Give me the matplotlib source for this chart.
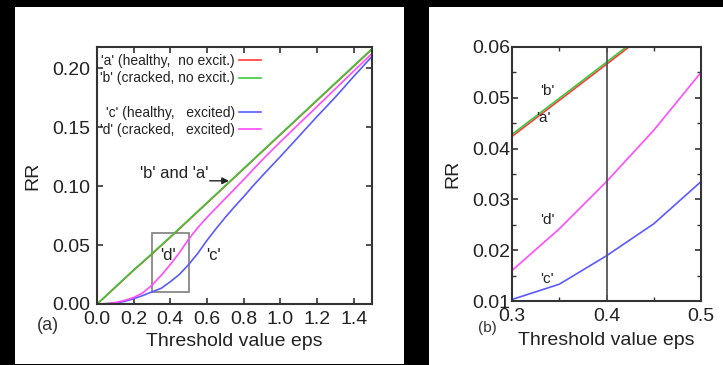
import matplotlib
matplotlib.use("Agg")
from matplotlib import pyplot as plt
from matplotlib.patches import Rectangle
from matplotlib.ticker import MultipleLocator

plt.rcParams['font.family'] = ['Liberation Sans', 'DejaVu Sans']

# threshold values eps (step 0.05)
eps = [0.00, 0.05, 0.10, 0.15, 0.20, 0.25, 0.30, 0.35, 0.40, 0.45, 0.50,
       0.55, 0.60, 0.65, 0.70, 0.75, 0.80, 0.85, 0.90, 0.95, 1.00,
       1.05, 1.10, 1.15, 1.20, 1.25, 1.30, 1.35, 1.40, 1.45, 1.50]

# 'a' healthy, no excitation
rr_a = [0, .0069, .0141, .0213, .0286, .0354, .0424, .0495, .0566, .0638, .0711,
        .0783, .0856, .0928, .1001, .1073, .1146, .1218, .1291, .1363, .1436,
        .1508, .1581, .1653, .1726, .1798, .1871, .1943, .2016, .2088, .2161]
# 'b' cracked, no excitation
rr_b = [0, .0072, .0145, .0217, .0290, .0358, .0428, .0499, .0570, .0642, .0715,
        .0787, .0860, .0932, .1005, .1077, .1150, .1222, .1295, .1367, .1440,
        .1512, .1585, .1657, .1730, .1802, .1875, .1947, .2020, .2092, .2165]
# 'c' healthy, excited
rr_c = [0, .0002, .0008, .0022, .0045, .0072, .0103, .0133, .0189, .0252, .0335,
        .0430, .0540, .0640, .0735, .0825, .0910, .1000, .1085, .1168, .1250,
        .1335, .1420, .1505, .1590, .1672, .1755, .1842, .1930, .2015, .2100]
# 'd' cracked, excited
rr_d = [0, .0003, .0012, .0030, .0055, .0095, .0160, .0242, .0335, .0436, .0550,
        .0648, .0735, .0815, .0895, .0975, .1055, .1138, .1220, .1298, .1375,
        .1450, .1525, .1600, .1675, .1750, .1825, .1900, .1975, .2050, .2125]

labels = ["'a' (healthy,  no excit.)", "'b' (cracked, no excit.)",
          "'c' (healthy,   excited)", "'d' (cracked,   excited)"]
colors = ['#ff3a3a', '#3cc83c', '#5a5aff', '#ff4cff']

W, H = 723, 365
fig = plt.figure(figsize=(W / 100, H / 100), dpi=100, facecolor='black')

# white panels on black background
fig.patches.append(Rectangle((15 / W, 1 / H), 389 / W, 357 / H, transform=fig.transFigure,
                             facecolor='white', edgecolor='none', zorder=-5))
fig.patches.append(Rectangle((429 / W, 0), 294 / W, 358 / H, transform=fig.transFigure,
                             facecolor='white', edgecolor='none', zorder=-5))

txt = '#222222'


def style(ax):
	for s in ax.spines.values():
		s.set_linewidth(1.5)
		s.set_color('#333333')
	ax.tick_params(which='both', direction='in', top=True, right=True,
				   labelsize=14, colors='#333333', labelcolor=txt, pad=5)
	ax.tick_params(which='major', length=4, width=1.2)
	ax.tick_params(which='minor', length=3, width=1.0)


# ---- panel (a)
ax1 = fig.add_axes([97 / W, 1 - 304 / H, 275 / W, 257 / H])
ax1.set_facecolor('white')
series = [rr_a, rr_b, rr_c, rr_d]
for i, s in enumerate(series):
	ax1.plot(eps, s, color=colors[i], lw=1.2, label=labels[i])
	if i == 1:
		ax1.plot([], [], color='none', label=' ')
handles, labs = ax1.get_legend_handles_labels()
leg = ax1.legend(handles, labs, loc='upper left', frameon=False, markerfirst=False,
				 fontsize=10, handlelength=1.6, handletextpad=0.3, labelspacing=0.22,
				 borderaxespad=0.0, bbox_to_anchor=(-0.01, 0.993))
for t in leg.get_texts():
	t.set_color(txt)
ax1.set_xlim(0, 1.5)
ax1.set_ylim(0, 0.218)
ax1.xaxis.set_major_locator(MultipleLocator(0.2))
ax1.yaxis.set_major_locator(MultipleLocator(0.05))
ax1.xaxis.set_major_formatter(lambda v, p: f"{v:.1f}")
ax1.yaxis.set_major_formatter(lambda v, p: f"{v:.2f}")
style(ax1)
ax1.add_patch(Rectangle((0.3, 0.01), 0.2, 0.05, fill=False, edgecolor='#888888', lw=1.3))
ax1.text(0.605, 0.111, "'b' and 'a'", ha='right', va='center', fontsize=12, color=txt)
ax1.annotate('', xy=(0.735, 0.1045), xytext=(0.60, 0.1045),
			 arrowprops=dict(arrowstyle='-|>', color='#222222', lw=1.0, mutation_scale=10))
ax1.text(0.387, 0.0415, "'d'", ha='center', va='center', fontsize=12, color=txt)
ax1.text(0.633, 0.0415, "'c'", ha='center', va='center', fontsize=12, color=txt)
ax1.set_xlabel('Threshold value eps', fontsize=14, color=txt, labelpad=4)
ax1.set_ylabel('RR', fontsize=14, color=txt, labelpad=8)
fig.text(48 / W, 1 - 325 / H, '(a)', ha='center', va='center', fontsize=13, color='#333333')

# ---- panel (b)
ax2 = fig.add_axes([512 / W, 1 - 301 / H, 189 / W, 254 / H])
ax2.set_facecolor('white')
for i, s in enumerate(series):
	ax2.plot(eps, s, color=colors[i], lw=1.2)
ax2.axvline(0.4, color='#555555', lw=1.3)
ax2.set_xlim(0.3, 0.5)
ax2.set_ylim(0.01, 0.06)
ax2.xaxis.set_major_locator(MultipleLocator(0.1))
ax2.xaxis.set_minor_locator(MultipleLocator(0.05))
ax2.yaxis.set_major_locator(MultipleLocator(0.01))
ax2.yaxis.set_minor_locator(MultipleLocator(0.005))
ax2.xaxis.set_major_formatter(lambda v, p: f"{v:.1f}")
ax2.yaxis.set_major_formatter(lambda v, p: f"{v:.2f}")
style(ax2)
ax2.tick_params(axis='y', which='major', pad=1)
ax2.text(0.337, 0.0514, "'b'", ha='center', va='center', fontsize=11, color=txt)
ax2.text(0.333, 0.0461, "'a'", ha='center', va='center', fontsize=11, color=txt)
ax2.text(0.337, 0.0259, "'d'", ha='center', va='center', fontsize=11, color=txt)
ax2.text(0.337, 0.0143, "'c'", ha='center', va='center', fontsize=11, color=txt)
ax2.set_xlabel('Threshold value eps', fontsize=14, color=txt, labelpad=5)
ax2.set_ylabel('RR', fontsize=14, color=txt, labelpad=8)
fig.text(487 / W, 1 - 328 / H, '(b)', ha='center', va='center', fontsize=11, color='#333333')

fig.savefig('out.png', dpi=100, facecolor='black')
